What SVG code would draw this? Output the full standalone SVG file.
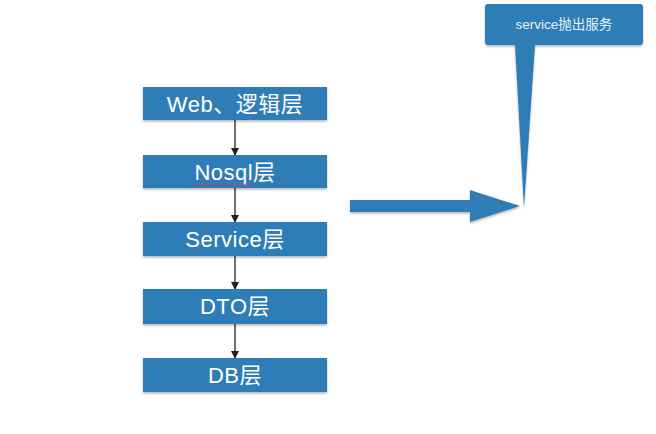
<svg xmlns="http://www.w3.org/2000/svg" width="656" height="434" viewBox="0 0 656 434">
<defs>
<style>
.box{fill:#2f7db6;}
.lbl{fill:#ffffff;font-family:"Liberation Sans","Noto Sans CJK SC",sans-serif;font-size:22px;text-anchor:middle;letter-spacing:0.5px;}
.small{fill:#e8f1f8;font-family:"Liberation Sans","Noto Sans CJK SC",sans-serif;font-size:13.5px;text-anchor:middle;}
.conn{stroke:#222;stroke-width:1.3;fill:none;marker-end:url(#ah);}
</style>
<marker id="ah" markerWidth="8" markerHeight="8" refX="7" refY="4" orient="auto" markerUnits="userSpaceOnUse">
<path d="M0,0 L8,4 L0,8 Z" fill="#222"/>
</marker>
<filter id="sh" x="-5%" y="-20%" width="110%" height="150%">
<feDropShadow dx="0" dy="1.5" stdDeviation="1.2" flood-color="#000" flood-opacity="0.3"/>
</filter>
</defs>
<rect width="656" height="434" fill="#ffffff"/>
<g id="connectors">
<line class="conn" x1="235" y1="120" x2="235" y2="155"/>
<line class="conn" x1="235" y1="188" x2="235" y2="222"/>
<line class="conn" x1="235" y1="256" x2="235" y2="289"/>
<line class="conn" x1="235" y1="324" x2="235" y2="358"/>
</g>
<g id="web">
<rect class="box" x="143" y="87" width="184" height="33" filter="url(#sh)"/>
<text class="lbl" x="235" y="111.5">Web、逻辑层</text>
</g>
<g id="nosql">
<rect class="box" x="143" y="155" width="184" height="33" filter="url(#sh)"/>
<text class="lbl" x="235" y="179.5">Nosql层</text>
<path d="M192,184.5 q1,-1 2,0 t2,0 t2,0 t2,0 t2,0 t2,0 t2,0 t2,0 t2,0 t2,0 t2,0 t2,0 t2,0 t2,0 t2,0 t2,0 t2,0 t2,0 t2,0 t2,0 t2,0 t2,0 t2,0 t2,0 t2,0 t2,0 t2,0 t2,0 t2,0 t2,0" fill="none" stroke="#e0404a" stroke-width="0.8"/>
</g>
<g id="service">
<rect class="box" x="143" y="222" width="184" height="34" filter="url(#sh)"/>
<text class="lbl" x="235" y="247">Service层</text>
</g>
<g id="dto">
<rect class="box" x="143" y="289" width="184" height="35" filter="url(#sh)"/>
<text class="lbl" x="235" y="314">DTO层</text>
</g>
<g id="db">
<rect class="box" x="143" y="358" width="184" height="34" filter="url(#sh)"/>
<text class="lbl" x="235" y="383">DB层</text>
</g>
<g id="bigarrow">
<path class="box" d="M350,200 L470,200 L470,190 L520,206 L470,222 L470,212 L350,212 Z" filter="url(#sh)"/>
</g>
<g id="callout">
<path class="box" d="M488,4 L640,4 Q643,4 643,7 L643,42 Q643,45 640,45 L535,45 L524,208 L515,45 L488,45 Q485,45 485,42 L485,7 Q485,4 488,4 Z" filter="url(#sh)"/>
<text class="small" x="564" y="29">service抛出服务</text>
</g>
</svg>
